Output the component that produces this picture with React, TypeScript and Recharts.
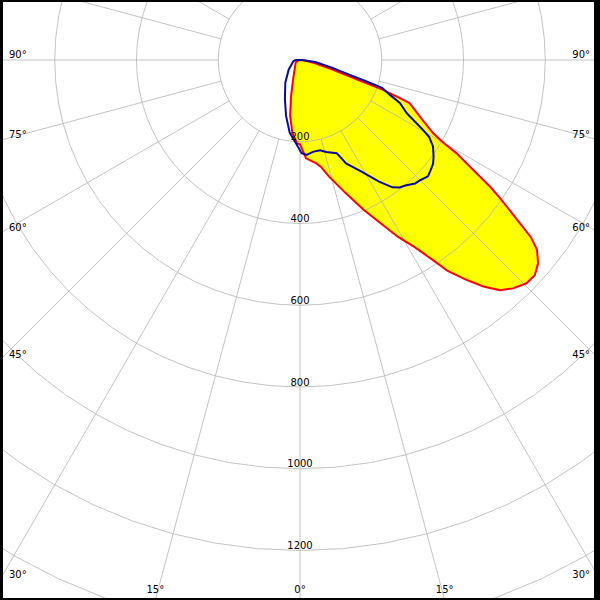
import React from 'react';
import { ScatterChart, Scatter, XAxis, YAxis } from 'recharts';

// ---------- data (polar: angle in degrees from nadir, intensity in cd) ----------
const redAngles = [-180, -90, -60, -45, -30, -22, -14, -10, -6, -2, 0, 3.5, 9, 11, 14, 19, 23, 26, 29, 31.5, 33.5, 35, 37, 39, 41, 43, 45.4, 47.5, 49.5, 51.3, 52.5, 53.6, 55.3, 56.3, 57.6, 59.2, 60, 61.2, 64.7, 68.5, 69.2, 70.3, 70.8, 71.8, 73.8, 77.8, 84, 90, 180];
const redValues = [0, 3, 12, 16, 26, 42, 90, 139, 179, 204, 206, 241, 256, 266, 294, 345, 398, 441, 495, 537, 585, 630, 672, 713, 746, 764, 778, 779, 766, 743, 712, 662, 597, 560, 502, 446, 406, 372, 325, 288, 259, 213, 169, 125, 81, 38, 12, 2, 0];

const blueAngles = [-180, -90, -81, -50, -33, -21, -14, -8, -3, 1, 4, 8, 12.5, 16, 21.5, 24, 29, 33, 36, 38, 40, 43, 45, 47.7, 49.5, 52, 54, 57, 59.2, 60.4, 63.5, 66.7, 68.8, 71.3, 72.2, 73.6, 76.5, 82.6, 90, 180];
const blueValues = [0, 10, 16, 36, 66, 103, 141, 180, 203, 228, 233, 227, 226, 234, 245, 277, 313, 355, 385, 396, 401, 413, 416, 423, 419, 413, 404, 388, 368, 346, 292, 266, 236, 212, 168, 124, 80, 38, 5, 0];

const gridRadii = [200, 400, 600, 800, 1000, 1200, 1400, 1600];
const radiusLabelValues = [200, 400, 600, 800, 1000, 1200];
const gridAngles = [-180, -165, -150, -135, -120, -105, -90, -75, -60, -45, -30, -15, 0, 15, 30, 45, 60, 75, 90, 105, 120, 135, 150, 165];
const angleLabelValues = [-90, -75, -60, -45, -30, -15, 0, 15, 30, 45, 60, 75, 90];

// ---------- layout ----------
const W = 600;
const H = 600;
const PX_PER_CD = 81.75 / 200;
const CX_PX = 300;
const CY_PX = 60;
const X_HALF = CX_PX / PX_PER_CD;
const Y_TOP = CY_PX / PX_PER_CD;
const Y_BOTTOM = -(H - CY_PX) / PX_PER_CD;
const GRID_INNER = 200;
const GRID_OUTER = 4000;
const CIRCLE_STEP = 5;

const GRID = '#b4b4b4';
const GRID_OPACITY = 0.8;
const FONT: React.CSSProperties = { fontFamily: '"DejaVu Sans", sans-serif', fontSize: 10, fill: '#000' };

const rad = (d: number) => (d * Math.PI) / 180;
const toXY = (deg: number, r: number) => ({ x: r * Math.sin(rad(deg)), y: -r * Math.cos(rad(deg)) });

const redData = redAngles.map((a, i) => toXY(a, redValues[i]));
const blueData = blueAngles.map((a, i) => toXY(a, blueValues[i]));

const circles = gridRadii.map((r) => {
  const pts: { x: number; y: number }[] = [];
  for (let d = 0; d <= 360; d += CIRCLE_STEP) pts.push(toXY(d, r));
  return pts;
});
const spokes = gridAngles.map((a) => [toXY(a, GRID_INNER), toXY(a, GRID_OUTER)]);

const radiusLabels = radiusLabelValues.map((r) => ({ ...toXY(0, r), text: String(r) }));

const angleLabels = angleLabelValues.map((a) => {
  const s = Math.sin(rad(a));
  const c = Math.cos(rad(a));
  const tSide = Math.abs(s) > 1e-9 ? X_HALF / Math.abs(s) : Infinity;
  const tBottom = c > 1e-9 ? -Y_BOTTOM / c : Infinity;
  const t = Math.min(tSide, tBottom);
  const side = tBottom < tSide - 1e-6 ? 'bottom' : a < 0 ? 'left' : 'right';
  return { x: t * s, y: -t * c, text: `${Math.abs(a)}°`, side };
});

const Nothing = () => <g />;

const RadiusLabel = (p: any) => (
  <text x={p.cx} y={p.cy - 1.5} textAnchor="middle" style={FONT}>
    {p.payload.text}
  </text>
);

const AngleLabel = (p: any) => {
  const { cx, cy, payload } = p;
  if (payload.side === 'left')
    return (
      <text x={cx + 9} y={cy - 2} textAnchor="start" style={FONT}>
        {payload.text}
      </text>
    );
  if (payload.side === 'right')
    return (
      <text x={cx - 10} y={cy - 2} textAnchor="end" style={FONT}>
        {payload.text}
      </text>
    );
  return (
    <text x={cx} y={cy - 7} textAnchor="middle" style={FONT}>
      {payload.text}
    </text>
  );
};

const layer: React.CSSProperties = { position: 'absolute', left: 0, top: 0, width: W, height: H };

function Frame({ children }: { children: React.ReactNode }) {
  return (
    <div style={layer}>
      <ScatterChart width={W} height={H} margin={{ top: 0, right: 0, bottom: 0, left: 0 }}>
        <XAxis type="number" dataKey="x" domain={[-X_HALF, X_HALF]} hide allowDataOverflow />
        <YAxis type="number" dataKey="y" domain={[Y_BOTTOM, Y_TOP]} hide allowDataOverflow />
        {children}
      </ScatterChart>
    </div>
  );
}

export default function App() {
  return (
    <div style={{ ...layer, background: '#fff' }}>
      {/* yellow fill of the C0-C180 curve */}
      <Frame>
        <Scatter
          data={redData}
          line={{ fill: '#ffff00', stroke: 'none' }}
          shape={Nothing}
          isAnimationActive={false}
        />
      </Frame>
      {/* polar grid */}
      <Frame>
        {circles.map((pts, i) => (
          <Scatter
            key={`c${i}`}
            data={pts}
            line={{ stroke: GRID, strokeWidth: 1, strokeOpacity: GRID_OPACITY }}
            shape={Nothing}
            isAnimationActive={false}
          />
        ))}
        {spokes.map((pts, i) => (
          <Scatter
            key={`s${i}`}
            data={pts}
            line={{ stroke: GRID, strokeWidth: 1, strokeOpacity: GRID_OPACITY }}
            shape={Nothing}
            isAnimationActive={false}
          />
        ))}
      </Frame>
      {/* outlines */}
      <Frame>
        <Scatter
          data={redData}
          line={{ stroke: '#ff0000', strokeWidth: 2, fill: 'none' }}
          shape={Nothing}
          isAnimationActive={false}
        />
        <Scatter
          data={blueData}
          line={{ stroke: '#0a0a9a', strokeWidth: 2, fill: 'none' }}
          shape={Nothing}
          isAnimationActive={false}
        />
      </Frame>
      {/* labels */}
      <Frame>
        <Scatter data={radiusLabels} shape={RadiusLabel} isAnimationActive={false} />
        <Scatter data={angleLabels} shape={AngleLabel} isAnimationActive={false} />
      </Frame>
      <div
        style={{
          ...layer,
          boxSizing: 'border-box',
          borderStyle: 'solid',
          borderColor: '#000',
          borderWidth: '2px 6px 2px 3px',
          pointerEvents: 'none',
        }}
      />
    </div>
  );
}
